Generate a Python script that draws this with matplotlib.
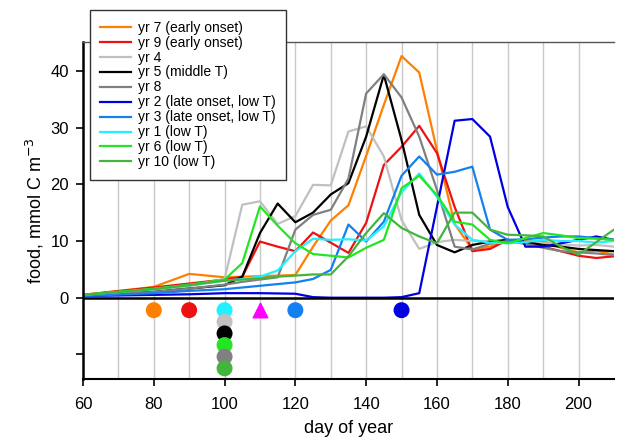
import numpy as np
import matplotlib
matplotlib.use('Agg')
import matplotlib.pyplot as plt

plt.rcParams['font.family'] = ['Liberation Sans', 'DejaVu Sans']

# sampling days (shared by all years)
days = [60, 80, 90, 100, 105, 110, 115, 120, 125, 130, 135, 140, 145,
        150, 155, 160, 165, 170, 175, 180, 185, 190, 195, 200, 205, 210]

yr7 = [0.5, 1.9, 4.2, 3.6, 3.7, 3.8, 3.9, 4.0, 9.0, 13.6, 16.3, 25.0, 34.0,
       42.6, 39.7, 26.0, 13.0, 8.5, 9.0, 10.0, 10.0, 10.0, 8.8, 8.0, 8.3, 7.6]
yr9 = [0.5, 1.8, 2.5, 3.2, 3.7, 9.9, 9.0, 8.2, 11.5, 9.7, 7.9, 13.2, 23.4,
       26.6, 30.3, 25.5, 16.0, 8.2, 8.6, 10.2, 9.5, 9.0, 8.2, 7.4, 7.0, 7.3]
yr4 = [0.4, 1.2, 2.0, 3.3, 16.4, 17.0, 13.0, 14.4, 19.9, 19.8, 29.3, 30.2, 24.9,
       13.7, 8.6, 9.8, 10.2, 10.0, 10.0, 9.8, 9.6, 9.6, 9.4, 9.2, 9.3, 9.0]
yr5 = [0.4, 1.0, 1.6, 2.2, 3.7, 11.4, 16.6, 13.3, 15.0, 18.2, 20.2, 28.4, 39.3,
       27.8, 14.6, 9.3, 8.0, 9.3, 9.9, 10.2, 9.8, 9.3, 9.0, 8.6, 8.4, 8.2]
yr8 = [0.4, 1.0, 1.6, 2.3, 2.8, 3.2, 3.6, 12.0, 14.6, 15.5, 21.0, 36.0, 39.4,
       35.3, 28.4, 19.0, 9.0, 8.5, 9.5, 10.0, 9.5, 8.8, 8.2, 8.0, 7.8, 7.5]
yr2 = [0.3, 0.5, 0.6, 0.8, 0.8, 0.8, 0.75, 0.7, 0.1, 0.0, 0.0, 0.0, 0.0,
       0.1, 0.8, 16.0, 31.2, 31.5, 28.4, 16.0, 9.0, 9.0, 9.6, 10.2, 10.8, 10.2]
yr3 = [0.3, 0.8, 1.2, 1.5, 1.8, 2.1, 2.4, 2.7, 3.3, 4.9, 12.9, 9.9, 13.4,
       21.5, 24.9, 21.7, 22.2, 23.1, 12.0, 10.2, 10.3, 10.6, 10.8, 10.8, 10.5, 10.2]
yr1 = [0.5, 1.5, 2.2, 3.0, 3.3, 3.7, 4.8, 8.2, 10.4, 10.2, 10.3, 10.1, 12.6,
       18.6, 21.9, 17.8, 12.9, 10.2, 9.7, 9.6, 9.8, 10.2, 10.0, 10.0, 9.7, 10.0]
yr6 = [0.5, 1.6, 2.3, 3.2, 6.1, 16.1, 12.7, 9.6, 7.7, 7.4, 7.1, 8.8, 10.2,
       19.3, 21.5, 18.1, 13.4, 12.9, 10.2, 9.6, 10.5, 11.4, 11.0, 10.5, 10.4, 10.2]
yr10 = [0.5, 1.5, 2.2, 3.0, 3.2, 3.4, 3.7, 3.9, 4.1, 4.1, 7.3, 11.4, 14.9,
        12.3, 10.8, 9.6, 15.0, 15.0, 12.0, 11.1, 11.0, 10.8, 9.0, 7.6, 9.8, 12.0]

labels = ['yr 7 (early onset)', 'yr 9 (early onset)', 'yr 4', 'yr 5 (middle T)', 'yr 8',
          'yr 2 (late onset, low T)', 'yr 3 (late onset, low T)', 'yr 1 (low T)',
          'yr 6 (low T)', 'yr 10 (low T)']
series = [yr7, yr9, yr4, yr5, yr8, yr2, yr3, yr1, yr6, yr10]
colors = ['#ff8000', '#ee1111', '#c0c0c0', '#000000', '#808080',
          '#0000e0', '#1480f0', '#20f0ff', '#22e622', '#44b53c']

# onset markers below the zero line
onset_days = [80, 90, 100, 120, 150]
onset_colors = ['#ff8000', '#ee1111', '#20f0ff', '#1480f0', '#0000e0']
tri_day = 110
stack_colors = ['#c0c0c0', '#000000', '#22e622', '#808080', '#44b53c']

fig = plt.figure(figsize=(6.17, 4.41), dpi=100)
ax = fig.add_axes([0.1345, 0.141, 0.8605, 0.764])

for x in range(70, 210, 10):
    ax.axvline(x, color='#c8c8c8', lw=1.0, zorder=0)

for y, c, lab in zip(series, colors, labels):
    ax.plot(days, y, color=c, lw=1.6, label=lab, zorder=2)

ax.axhline(0, color='black', lw=1.8, zorder=3)

ax.scatter(onset_days, [-2.2] * len(onset_days), s=110, c=onset_colors, zorder=4)
ax.scatter([tri_day], [-2.2], s=110, c='#ff00ff', marker='^', zorder=4)
ax.scatter([100] * len(stack_colors), [-4.25, -6.3, -8.35, -10.4, -12.45],
           s=110, c=stack_colors, zorder=4)

ax.set_xlim(60, 210)
ax.set_ylim(-14.3, 45.1)
ax.set_xticks(range(60, 201, 20))
ax.set_yticks([-10, 0, 10, 20, 30, 40])
ax.set_yticklabels(['', '0', '10', '20', '30', '40'])
ax.tick_params(labelsize=12, length=5, width=1.2, direction='out')
ax.tick_params(axis='x', pad=8)
ax.tick_params(axis='y', pad=5)
ax.set_xlabel('day of year', fontsize=13, labelpad=6)
ax.set_ylabel('food, mmol C m$^{-3}$', fontsize=13, labelpad=3)

ax.spines['left'].set_linewidth(1.8)
ax.spines['bottom'].set_linewidth(1.5)
ax.spines['right'].set_visible(False)
ax.spines['top'].set_color('#555555')
ax.spines['top'].set_linewidth(1.0)

leg = fig.legend(loc='upper left', bbox_to_anchor=(0.146, 0.977), fontsize=10,
                 labelspacing=0.07, handlelength=2.2, handletextpad=0.5,
                 borderpad=0.75, borderaxespad=0, fancybox=False, framealpha=1,
                 edgecolor='#333333')
leg.get_frame().set_linewidth(1.0)

fig.savefig('out.png', dpi=100)
